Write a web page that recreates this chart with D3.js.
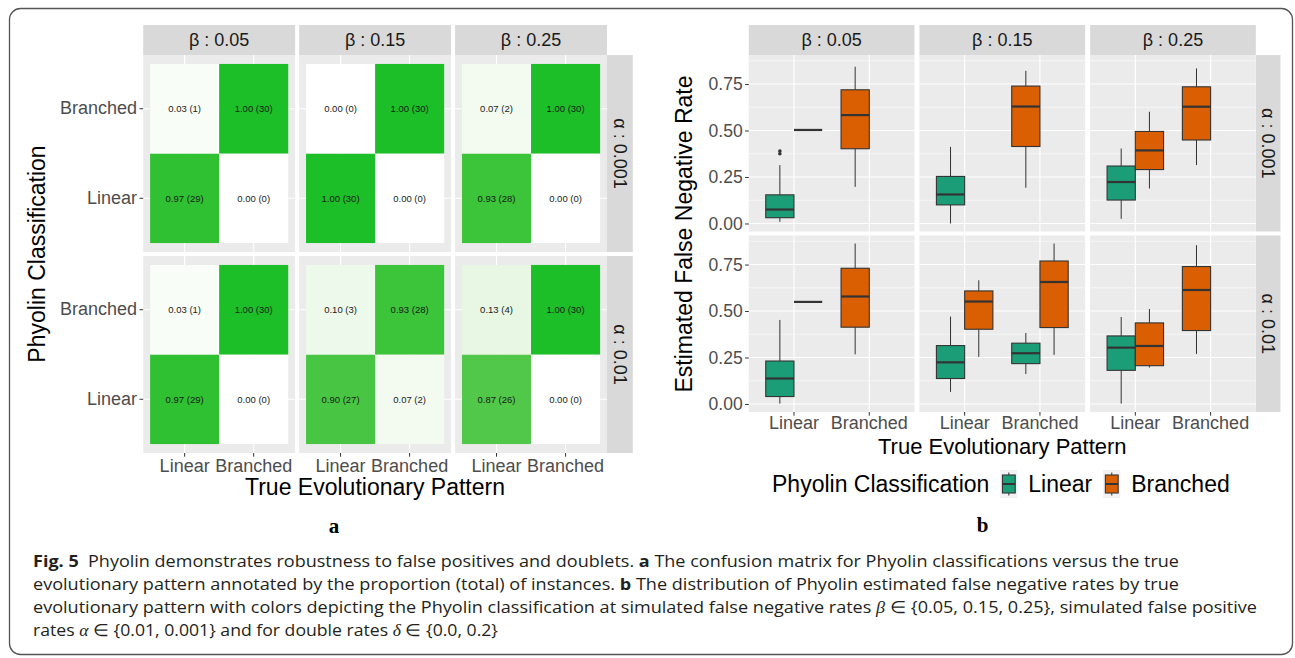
<!DOCTYPE html>
<html>
<head>
<meta charset="utf-8">
<script src="https://cdn.jsdelivr.net/npm/d3@7"></script>
<style>
  body { margin: 0; background: #fff; }
</style>
</head>
<body>
<script>
const W = 1295, H = 658;

const betas = ["0.05", "0.15", "0.25"];
const alphas = ["0.001", "0.01"];
const patterns = ["Linear", "Branched"];
const nRuns = 30;

// confusion counts per alpha row, per beta column
// order: [truth Linear -> Linear, Linear -> Branched, Branched -> Linear, Branched -> Branched]
const cellPairs = [["Linear", "Linear"], ["Linear", "Branched"], ["Branched", "Linear"], ["Branched", "Branched"]];
const countsAlpha001 = [[29, 1, 0, 30], [30, 0, 0, 30], [28, 2, 0, 30]];
const countsAlpha01 = [[29, 1, 0, 30], [27, 3, 2, 28], [26, 4, 0, 30]];

// boxplot stats: [beta, truth, classification, lower whisker, q1, median, q3, upper whisker, outliers]
const boxesAlpha001 = [
  ["0.05", "Linear", "Linear", 0.009, 0.031, 0.075, 0.154, 0.314, [0.375, 0.39]],
  ["0.05", "Linear", "Branched", 0.503, 0.503, 0.503, 0.503, 0.503, []],
  ["0.05", "Branched", "Branched", 0.197, 0.402, 0.583, 0.719, 0.843, []],
  ["0.15", "Linear", "Linear", 0.0, 0.10, 0.156, 0.253, 0.412, []],
  ["0.15", "Branched", "Branched", 0.192, 0.414, 0.629, 0.739, 0.821, []],
  ["0.25", "Linear", "Linear", 0.025, 0.126, 0.223, 0.309, 0.403, []],
  ["0.25", "Linear", "Branched", 0.188, 0.29, 0.393, 0.495, 0.601, []],
  ["0.25", "Branched", "Branched", 0.314, 0.449, 0.628, 0.735, 0.834, []]
];
const boxesAlpha01 = [
  ["0.05", "Linear", "Linear", 0.002, 0.04, 0.137, 0.231, 0.452, []],
  ["0.05", "Linear", "Branched", 0.549, 0.549, 0.549, 0.549, 0.549, []],
  ["0.05", "Branched", "Branched", 0.267, 0.413, 0.578, 0.730, 0.863, []],
  ["0.15", "Linear", "Linear", 0.065, 0.137, 0.224, 0.314, 0.47, []],
  ["0.15", "Linear", "Branched", 0.253, 0.402, 0.551, 0.608, 0.665, []],
  ["0.15", "Branched", "Linear", 0.161, 0.217, 0.273, 0.327, 0.382, []],
  ["0.15", "Branched", "Branched", 0.264, 0.411, 0.656, 0.769, 0.863, []],
  ["0.25", "Linear", "Linear", 0.002, 0.181, 0.303, 0.366, 0.468, []],
  ["0.25", "Linear", "Branched", 0.196, 0.206, 0.312, 0.436, 0.511, []],
  ["0.25", "Branched", "Branched", 0.269, 0.395, 0.613, 0.739, 0.854, []]
];
const yTicks = [0, 0.25, 0.5, 0.75];
const classColors = { Linear: "#1b9e77", Branched: "#d95f02" };

const SANS = '"Liberation Sans", Arial, sans-serif';
const svg = d3.select("body").append("svg").attr("width", W).attr("height", H)
  .attr("font-family", SANS);

// figure frame
svg.append("rect")
  .attr("x", 9.5).attr("y", 8.5).attr("width", 1283).attr("height", 646).attr("rx", 11)
  .attr("fill", "none").attr("stroke", "#555").attr("stroke-width", 1.3);

const STRIP = "#d9d9d9", PANEL = "#ebebeb";

const panelXs = (x0, x1, gap, n) => {
  const pw = (x1 - x0 - gap * (n - 1)) / n;
  return { pw, xs: d3.range(n).map(i => x0 + i * (pw + gap)) };
};

const drawStrips = (xs, pw, rowTops, rowH, rightW) => {
  xs.forEach((x, i) => {
    svg.append("rect").attr("x", x).attr("y", 25).attr("width", pw).attr("height", 30).attr("fill", STRIP);
    svg.append("text").attr("x", x + pw / 2).attr("y", 40).attr("dy", "0.35em")
      .attr("text-anchor", "middle").attr("font-size", 18).attr("fill", "#1a1a1a")
      .text("β : " + betas[i]);
  });
  const xr = xs[xs.length - 1] + pw;
  rowTops.forEach((y, j) => {
    svg.append("rect").attr("x", xr).attr("y", y).attr("width", rightW).attr("height", rowH).attr("fill", STRIP);
    svg.append("text")
      .attr("transform", `translate(${xr + rightW / 2},${y + rowH / 2}) rotate(90)`)
      .attr("dy", "0.35em").attr("text-anchor", "middle").attr("font-size", 18).attr("fill", "#1a1a1a")
      .text("α : " + alphas[j]);
  });
};

const styleAxis = (g, size) => {
  g.attr("font-family", SANS);
  g.select(".domain").remove();
  g.selectAll(".tick line").attr("stroke", "#333").attr("stroke-width", 1);
  g.selectAll(".tick text").attr("fill", "#4d4d4d").attr("font-size", size);
};

// ---------- a: confusion matrices ----------
const hm = panelXs(143.2, 607, 4, 3);
const hmRows = [55, 256], hmRowH = 197;
const fill = d3.scaleLinear().domain([0, 1]).range(["#ffffff", "#1dbf28"]).interpolate(d3.interpolateLab);

drawStrips(hm.xs, hm.pw, hmRows, hmRowH, 25.8);

[countsAlpha001, countsAlpha01].forEach((rowCounts, j) => {
  rowCounts.forEach((counts, i) => {
    const x = d3.scaleBand().domain(patterns).range([0, hm.pw]).paddingInner(0).paddingOuter(0.1);
    const y = d3.scaleBand().domain(patterns).range([hmRowH, 0]).paddingInner(0).paddingOuter(0.1);
    const g = svg.append("g").attr("transform", `translate(${hm.xs[i]},${hmRows[j]})`);
    g.append("rect").attr("width", hm.pw).attr("height", hmRowH).attr("fill", PANEL);
    patterns.forEach(p => {
      g.append("line").attr("x1", x(p) + x.bandwidth() / 2).attr("x2", x(p) + x.bandwidth() / 2)
        .attr("y1", 0).attr("y2", hmRowH).attr("stroke", "#fff").attr("stroke-width", 1.1);
      g.append("line").attr("y1", y(p) + y.bandwidth() / 2).attr("y2", y(p) + y.bandwidth() / 2)
        .attr("x1", 0).attr("x2", hm.pw).attr("stroke", "#fff").attr("stroke-width", 1.1);
    });
    const cells = cellPairs.map(([truth, cls], k) => ({ truth, cls, n: counts[k], prop: counts[k] / nRuns }));
    g.selectAll("rect.tile").data(cells).join("rect").attr("class", "tile")
      .attr("x", d => x(d.truth)).attr("y", d => y(d.cls))
      .attr("width", x.bandwidth()).attr("height", y.bandwidth())
      .attr("fill", d => fill(d.prop));
    g.selectAll("text.lab").data(cells).join("text").attr("class", "lab")
      .attr("x", d => x(d.truth) + x.bandwidth() / 2).attr("y", d => y(d.cls) + y.bandwidth() / 2)
      .attr("dy", "0.35em").attr("text-anchor", "middle").attr("font-size", 9.5).attr("fill", "#1a1a1a")
      .text(d => `${d.prop.toFixed(2)} (${d.n})`);
    if (i === 0) {
      const ax = g.append("g").call(d3.axisLeft(y).tickSize(3.7).tickPadding(2.5));
      styleAxis(ax, 18);
    }
    if (j === 1) {
      const ax = g.append("g").attr("transform", `translate(0,${hmRowH})`)
        .call(d3.axisBottom(x).tickSize(3.7).tickPadding(2.9));
      styleAxis(ax, 18);
    }
  });
});

svg.append("text").attr("x", 375).attr("y", 487).attr("dy", "0.35em").attr("text-anchor", "middle")
  .attr("font-size", 23).text("True Evolutionary Pattern");
svg.append("text").attr("transform", "translate(37,254) rotate(-90)").attr("dy", "0.35em")
  .attr("text-anchor", "middle").attr("font-size", 23).text("Phyolin Classification");

// ---------- b: estimated false negative rates ----------
const bx = panelXs(748.8, 1255.8, 5, 3);
const bxRows = [55, 235.5], bxRowH = 176.5;
drawStrips(bx.xs, bx.pw, bxRows, bxRowH, 24.7);

const allBoxes = [boxesAlpha001, boxesAlpha01];
const yMax = d3.max(allBoxes.flat(), d => Math.max(d[7], ...d[8]));
const yPad = yMax * 0.05;

allBoxes.forEach((rows, j) => {
  betas.forEach((beta, i) => {
    const x = d3.scaleBand().domain(patterns).range([0, bx.pw]).paddingInner(0).paddingOuter(0.1);
    const y = d3.scaleLinear().domain([-yPad, yMax + yPad]).range([bxRowH, 0]);
    const g = svg.append("g").attr("transform", `translate(${bx.xs[i]},${bxRows[j]})`);
    g.append("rect").attr("width", bx.pw).attr("height", bxRowH).attr("fill", PANEL);
    const minor = d3.range(-0.125, yMax + yPad, 0.25).filter(v => v > -yPad);
    minor.forEach(v => g.append("line").attr("x1", 0).attr("x2", bx.pw).attr("y1", y(v)).attr("y2", y(v))
      .attr("stroke", "#fff").attr("stroke-width", 0.55));
    yTicks.forEach(v => g.append("line").attr("x1", 0).attr("x2", bx.pw).attr("y1", y(v)).attr("y2", y(v))
      .attr("stroke", "#fff").attr("stroke-width", 1.1));
    patterns.forEach(p => g.append("line").attr("x1", x(p) + x.bandwidth() / 2).attr("x2", x(p) + x.bandwidth() / 2)
      .attr("y1", 0).attr("y2", bxRowH).attr("stroke", "#fff").attr("stroke-width", 1.1));

    const dodgeW = 0.75 * x.bandwidth(), boxW = dodgeW / 2;
    const panelBoxes = rows.filter(r => r[0] === beta);
    patterns.forEach(truth => {
      const group = panelBoxes.filter(r => r[1] === truth)
        .sort((a, b) => patterns.indexOf(a[2]) - patterns.indexOf(b[2]));
      group.forEach((r, slot) => {
        const [, , cls, lo, q1, med, q3, hi, outs] = r;
        const left = x(truth) + x.bandwidth() / 2 - dodgeW / 2 + slot * boxW;
        const cx = left + boxW / 2;
        g.append("line").attr("x1", cx).attr("x2", cx).attr("y1", y(hi)).attr("y2", y(q3))
          .attr("stroke", "#333").attr("stroke-width", 1);
        g.append("line").attr("x1", cx).attr("x2", cx).attr("y1", y(q1)).attr("y2", y(lo))
          .attr("stroke", "#333").attr("stroke-width", 1);
        if (y(q1) - y(q3) > 0) {
          g.append("rect").attr("x", left).attr("y", y(q3)).attr("width", boxW).attr("height", y(q1) - y(q3))
            .attr("fill", classColors[cls]).attr("stroke", "#333").attr("stroke-width", 1.1);
        }
        g.append("line").attr("x1", left).attr("x2", left + boxW).attr("y1", y(med)).attr("y2", y(med))
          .attr("stroke", "#333").attr("stroke-width", 2.2);
        outs.forEach(o => g.append("circle").attr("cx", cx).attr("cy", y(o)).attr("r", 1.8).attr("fill", "#333"));
      });
    });

    if (i === 0) {
      const ax = g.append("g").call(d3.axisLeft(y).tickValues(yTicks).tickFormat(d3.format(".2f"))
        .tickSize(3.7).tickPadding(2.5));
      styleAxis(ax, 17.5);
    }
    if (j === 1) {
      const ax = g.append("g").attr("transform", `translate(0,${bxRowH})`)
        .call(d3.axisBottom(x).tickSize(3.7).tickPadding(1));
      styleAxis(ax, 18);
    }
  });
});

svg.append("text").attr("x", 1002.3).attr("y", 446).attr("dy", "0.35em").attr("text-anchor", "middle")
  .attr("font-size", 22).text("True Evolutionary Pattern");
svg.append("text").attr("transform", "translate(684,234) rotate(-90)").attr("dy", "0.35em")
  .attr("text-anchor", "middle").attr("font-size", 23).text("Estimated False Negative Rate");

// legend
const legY = 484;
const legTitle = svg.append("text").attr("x", 772).attr("y", legY).attr("dy", "0.35em")
  .attr("font-size", 23).text("Phyolin Classification");
let lx = 772 + legTitle.node().getComputedTextLength() + 13;
patterns.forEach(p => {
  const k = svg.append("g").attr("transform", `translate(${lx + 6.5},${legY})`);
  k.append("rect").attr("x", -8.6).attr("y", -14).attr("width", 17.2).attr("height", 28).attr("fill", "#f2f2f2");
  k.append("line").attr("y1", -11.5).attr("y2", 11.5).attr("stroke", "#333");
  k.append("rect").attr("x", -6.4).attr("y", -9).attr("width", 12.8).attr("height", 18)
    .attr("fill", classColors[p]).attr("stroke", "#333").attr("stroke-width", 1.1);
  k.append("line").attr("x1", -6.4).attr("x2", 6.4).attr("stroke", "#333").attr("stroke-width", 2);
  const t = svg.append("text").attr("x", lx + 13 + 13).attr("y", legY).attr("dy", "0.35em")
    .attr("font-size", 23).text(p);
  lx = lx + 26 + t.node().getComputedTextLength() + 13;
});

// panel letters
[["a", 334, 526], ["b", 982.5, 525]].forEach(([s, x, y]) => {
  svg.append("text").attr("x", x).attr("y", y).attr("dy", "0.35em").attr("text-anchor", "middle")
    .attr("font-family", '"Liberation Serif", "DejaVu Serif", serif').attr("font-weight", "bold")
    .attr("font-size", 21).text(s);
});

// caption
const capLines = [
  { y: 567, len: 1146, parts: [["Fig. 5", "b"], ["  Phyolin demonstrates robustness to false positives and doublets. "], ["a", "b"], [" The confusion matrix for Phyolin classifications versus the true"]] },
  { y: 590, len: 1146, parts: [["evolutionary pattern annotated by the proportion (total) of instances. "], ["b", "b"], [" The distribution of Phyolin estimated false negative rates by true"]] },
  { y: 613, len: 1224, parts: [["evolutionary pattern with colors depicting the Phyolin classification at simulated false negative rates "], ["β", "i"], [" ∈ {0.05, 0.15, 0.25}, simulated false positive"]] },
  { y: 636, len: 465, parts: [["rates "], ["α", "i"], [" ∈ {0.01, 0.001} and for double rates "], ["δ", "i"], [" ∈ {0.0, 0.2}"]] }
];
capLines.forEach(line => {
  const t = svg.append("text").attr("x", 33).attr("y", line.y)
    .attr("font-family", '"Open Sans", "Noto Sans", sans-serif').attr("font-size", 16.5).attr("fill", "#231f20")
    .style("white-space", "pre")
    .attr("textLength", line.len).attr("lengthAdjust", "spacingAndGlyphs");
  line.parts.forEach(([s, st]) => {
    const ts = t.append("tspan").text(s);
    if (st === "b") ts.attr("font-weight", "bold");
    if (st === "i") ts.attr("font-style", "italic").attr("font-family", '"Liberation Serif", serif');
  });
});
</script>
</body>
</html>
